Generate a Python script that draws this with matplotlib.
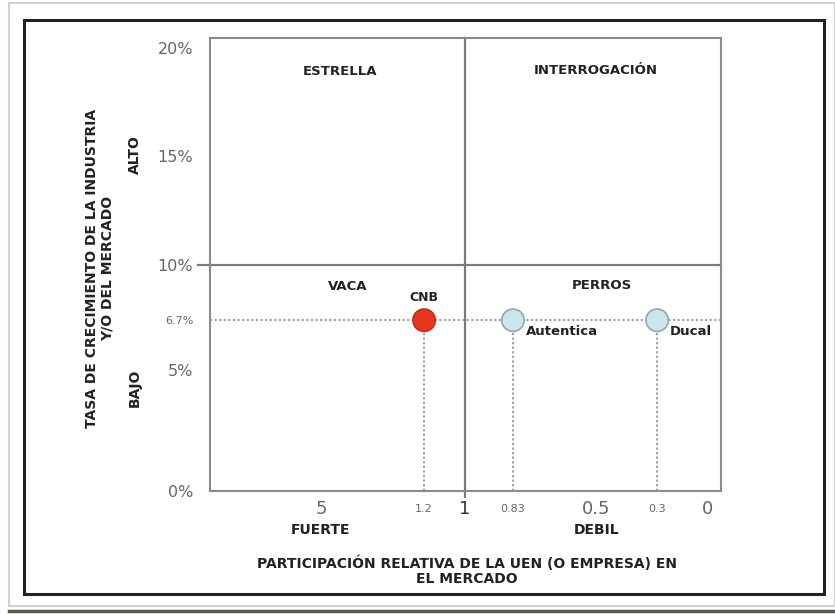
import numpy as np
import matplotlib
matplotlib.use('Agg')
import matplotlib.pyplot as plt
from matplotlib.patches import Rectangle
from matplotlib.lines import Line2D

# data
units = ['CNB', 'Autentica', 'Ducal']
share = [1.2, 0.83, 0.3]           # participacion relativa
growth = [6.7, 6.7, 6.7]           # tasa de crecimiento (%)
point_colors = ['#e8351c', '#cbe5ea', '#cbe5ea']
edge_colors = ['#b8321e', '#8fa9ad', '#8fa9ad']

x_ticks = [5, 1.2, 1, 0.83, 0.5, 0.3, 0]
x_ticklabels = ['5', '1.2', '1', '0.83', '0.5', '0.3', '0']
x_big = [True, False, True, False, True, False, True]
y_ticks = [0, 5, 6.7, 10, 15, 20]
y_ticklabels = ['0%', '5%', '6.7%', '10%', '15%', '20%']
y_big = [True, True, False, True, True, True]

quadrants = ['ESTRELLA', 'INTERROGACIÓN', 'VACA', 'PERROS']

# the chart is schematic, so the axes are piecewise (not to scale)
sx = [-0.05, 0, 0.3, 0.5, 0.83, 1, 1.2, 5, 8]
fx = [0.0, 0.027, 0.125, 0.245, 0.407, 0.501, 0.581, 0.783, 1.0]
sy = [0, 5, 6.7, 10, 20, 20.4]
fy = [0, 0.267, 0.377, 0.499, 0.978, 1.0]


def fwd_x(v):
    return np.interp(v, sx, fx)


def inv_x(v):
    return np.interp(v, fx, sx)


def fwd_y(v):
    return np.interp(v, sy, fy)


def inv_y(v):
    return np.interp(v, fy, sy)


fig = plt.figure(figsize=(8.35, 6.14), dpi=100)
W, H = 835, 614
dark = '#222222'

# frames around the picture
fig.add_artist(Rectangle((9 / W, 8 / H), 826 / W, 603 / H, transform=fig.transFigure,
                         fill=False, ec='#d0d0d0', lw=1.5))
fig.add_artist(Line2D([9 / W, 1], [1 - 611 / H, 1 - 611 / H], transform=fig.transFigure,
                      color='#55584a', lw=2.5))
fig.add_artist(Rectangle((24 / W, 1 - 594 / H), 800 / W, 574 / H, transform=fig.transFigure,
                         fill=False, ec=dark, lw=2.2))

ax = fig.add_axes([210 / W, 1 - 491 / H, 511 / W, 453 / H])
ax.set_xscale('function', functions=(fwd_x, inv_x))
ax.set_yscale('function', functions=(fwd_y, inv_y))
ax.set_xlim(8, -0.05)
ax.set_ylim(0, 20.4)

for s in ax.spines.values():
    s.set_color('#8a8a8a')
    s.set_linewidth(1.5)

# quadrant dividers
ax.axhline(10, xmin=-0.024, xmax=1, color='#7a7a7a', lw=1.6, clip_on=False)
ax.axvline(1, ymin=-0.013, ymax=1, color='#7a7a7a', lw=1.6, clip_on=False)

# guide lines for each unit
ax.axhline(growth[0], color='#888888', lw=1.1, ls=(0, (1.5, 1.5)), zorder=2)
for x, y in zip(share, growth):
    ax.plot([x, x], [0, y], color='#888888', lw=1.1, ls=(0, (1.5, 1.5)), zorder=2)

ax.scatter(share, growth, s=260, c=point_colors, edgecolors=edge_colors,
           linewidths=1.2, zorder=4)

ax.annotate(units[0], (share[0], growth[0]), xytext=(0, 16), textcoords='offset points',
            ha='center', va='center', fontsize=9, fontweight='bold', color=dark)
for i in [1, 2]:
    ax.annotate(units[i], (share[i], growth[i]), xytext=(9, -8), textcoords='offset points',
                ha='left', va='center', fontsize=9.5, fontweight='bold', color=dark)

# quadrant names
qx = [4.3, 0.5, 4.0, 0.48]
qy = [18.9, 18.95, 8.7, 8.75]
for name, x, y in zip(quadrants, qx, qy):
    ax.text(x, y, name, ha='center', va='center', fontsize=9.5, fontweight='bold',
            color=dark)

ax.set_xticks(x_ticks, x_ticklabels)
ax.set_yticks(y_ticks, y_ticklabels)
ax.tick_params(axis='both', length=0, colors='#666666')
ax.tick_params(axis='x', pad=13)
ax.tick_params(axis='y', pad=12)
for lab, big in zip(ax.get_xticklabels(), x_big):
    lab.set_va('center')
    lab.set_fontsize(13 if big else 8)
for lab, big in zip(ax.get_yticklabels(), y_big):
    lab.set_fontsize(11.5 if big else 8)
ax.get_xticklabels()[2].set_color('#333333')

# side and bottom captions
fig.text(100 / W, 1 - 268 / H, 'TASA DE CRECIMIENTO DE LA INDUSTRIA\nY/O DEL MERCADO',
         rotation=90, ha='center', va='center', fontsize=10, fontweight='bold',
         color=dark, linespacing=1.15)
fig.text(135 / W, 1 - 155 / H, 'ALTO', rotation=90, ha='center', va='center',
         fontsize=10, fontweight='bold', color=dark)
fig.text(135 / W, 1 - 388 / H, 'BAJO', rotation=90, ha='center', va='center',
         fontsize=10, fontweight='bold', color=dark)
fig.text(321 / W, 1 - 530 / H, 'FUERTE', ha='center', va='center',
         fontsize=10, fontweight='bold', color=dark)
fig.text(597 / W, 1 - 530 / H, 'DEBIL', ha='center', va='center',
         fontsize=10, fontweight='bold', color=dark)
fig.text(467 / W, 1 - 571 / H, 'PARTICIPACIÓN RELATIVA DE LA UEN (O EMPRESA) EN\nEL MERCADO',
         ha='center', va='center', fontsize=10, fontweight='bold', color=dark,
         linespacing=1.1)

fig.savefig('out.png', dpi=100)
